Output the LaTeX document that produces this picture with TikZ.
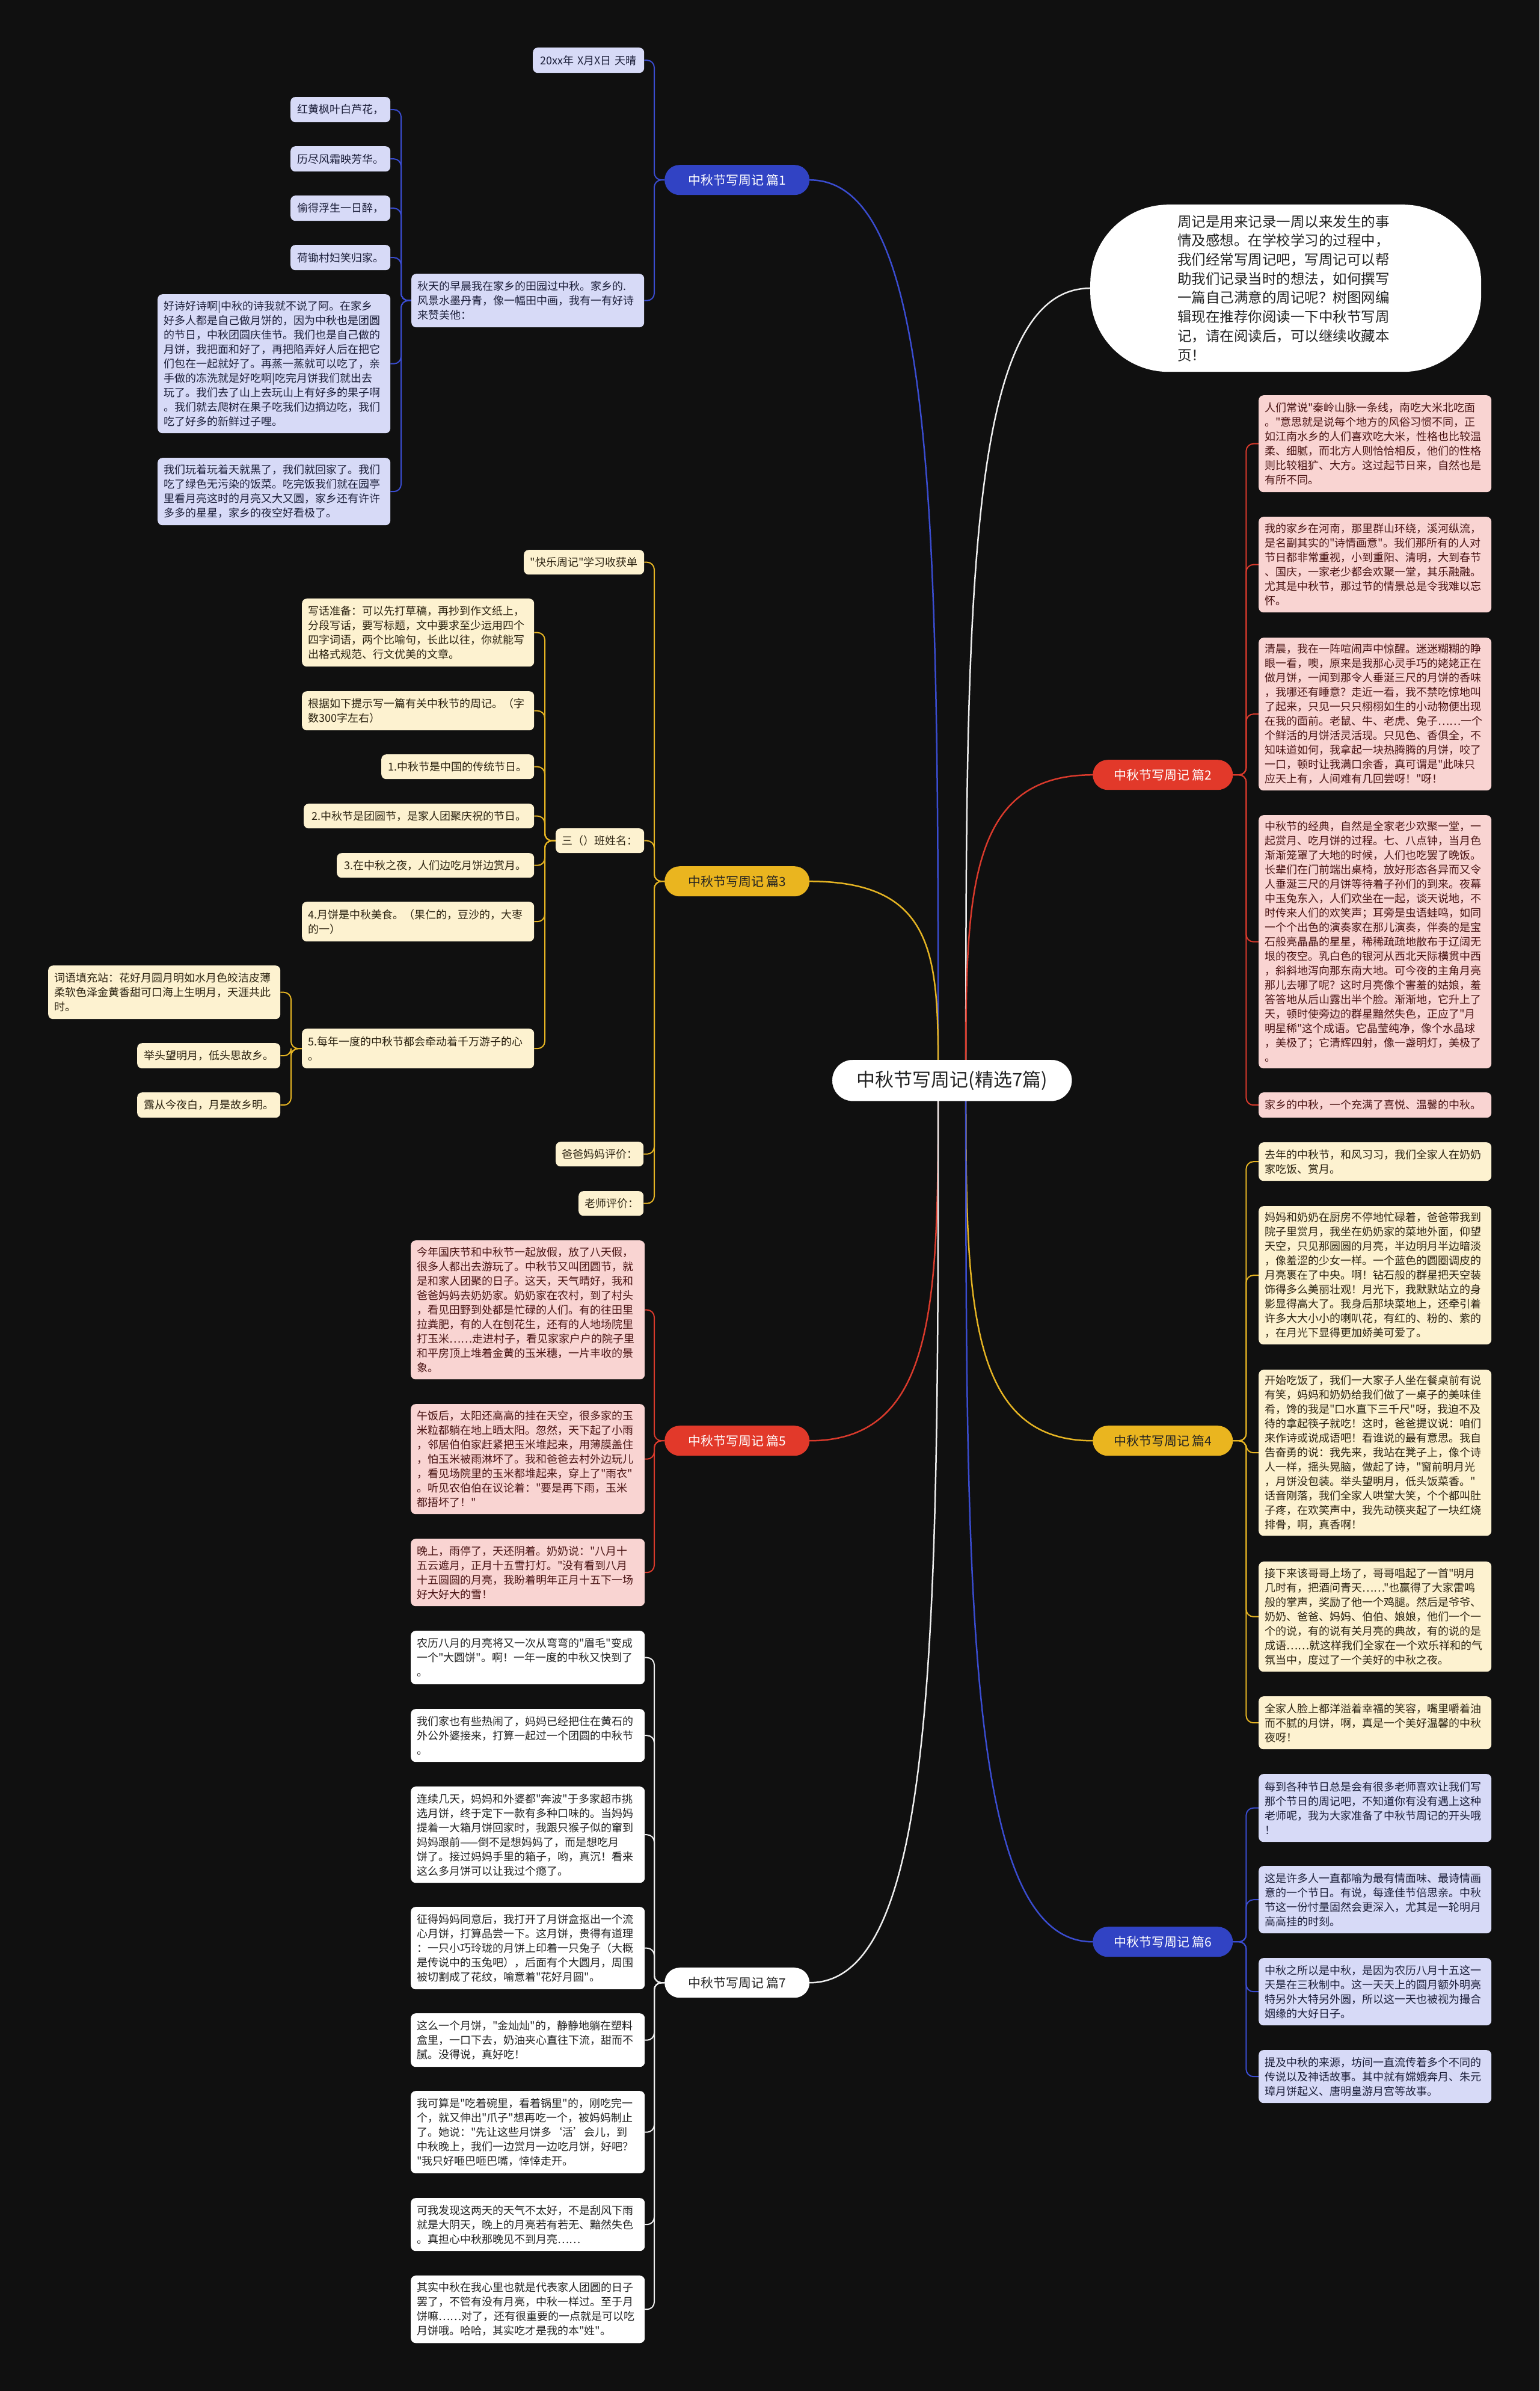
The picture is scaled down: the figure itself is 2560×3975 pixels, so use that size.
\documentclass[tikz,border=0pt]{standalone}
\usepackage{fontspec}
\setmainfont{Noto Sans CJK SC}
\newfontfamily\cjk{Noto Sans CJK SC}
\definecolor{bgc}{HTML}{101010}
\definecolor{blueL}{HTML}{3A4CD0}
\definecolor{blueF}{HTML}{3143C4}
\definecolor{blueLeaf}{HTML}{D7DAF7}
\definecolor{blueTxt}{HTML}{1C1F3A}
\definecolor{goldL}{HTML}{E5B423}
\definecolor{goldF}{HTML}{EAB51F}
\definecolor{goldLeaf}{HTML}{FDF2D0}
\definecolor{goldTxt}{HTML}{2B2210}
\definecolor{redL}{HTML}{D93A2C}
\definecolor{redF}{HTML}{E2392A}
\definecolor{redLeaf}{HTML}{F9D4D2}
\definecolor{redTxt}{HTML}{4A1414}
\definecolor{whiteL}{HTML}{EEEEEE}
\definecolor{darkTxt}{HTML}{222222}
\pgfdeclarelayer{back}\pgfdeclarelayer{links}\pgfsetlayers{back,links,main}
\begin{document}
\begin{tikzpicture}[x=1pt,y=-1pt,
  leaf/.style={anchor=north west, rounded corners=8pt, inner xsep=10pt, inner ysep=0pt, align=left, font=\cjk\fontsize{18pt}{24pt}\selectfont, text width=367pt},
  one/.style={align=center},
  bleaf/.style={leaf, fill=blueLeaf, text=blueTxt},
  gleaf/.style={leaf, fill=goldLeaf, text=goldTxt},
  rleaf/.style={leaf, fill=redLeaf, text=redTxt},
  wleaf/.style={leaf, fill=white, text=darkTxt},
  pill/.style={anchor=north west, rounded corners=25pt, minimum height=50pt, inner sep=0pt, font=\cjk\fontsize{21pt}{26pt}\selectfont},
  link/.style={line width=2.5pt, line cap=round},
  sub/.style={line width=2pt, rounded corners=12pt},
]
\useasboundingbox (0,0) rectangle (2560,3975);
\begin{pgfonlayer}{back}
\fill[bgc] (0,0) rectangle (2560,3975);
\end{pgfonlayer}

% root and branches
\node[anchor=north west, fill=white, draw=white, rounded corners=34pt, minimum width=398pt, minimum height=68pt, inner sep=0pt, text=darkTxt, font=\cjk\fontsize{31pt}{36pt}\selectfont] (root) at (1384,1762) {中秋节写周记(精选7篇)};
\coordinate (rootl) at ([xshift=-23pt]root.center);
\coordinate (rootr) at ([xshift=23pt]root.center);

\node[pill, fill=blueF, text=white, minimum width=241pt] (b1) at (1105,274) {中秋节写周记 篇1};
\node[pill, fill=goldF, text=darkTxt, minimum width=241pt] (b3) at (1105,1440) {中秋节写周记 篇3};
\node[pill, fill=redF, text=white, minimum width=241pt] (b5) at (1105,2370) {中秋节写周记 篇5};
\node[pill, fill=white, text=darkTxt, minimum width=241pt] (b7) at (1105,3271) {中秋节写周记 篇7};
\node[pill, fill=redF, text=white, minimum width=233pt] (b2) at (1817,1263) {中秋节写周记 篇2};
\node[pill, fill=goldF, text=darkTxt, minimum width=233pt] (b4) at (1817,2370) {中秋节写周记 篇4};
\node[pill, fill=blueF, text=white, minimum width=233pt] (b6) at (1817,3203) {中秋节写周记 篇6};

\node[anchor=north west, fill=white, rounded corners=130pt, minimum width=650pt, minimum height=278pt, text width=360pt, align=left, inner sep=0pt, text=darkTxt, font=\cjk\fontsize{23.5pt}{31.7pt}\selectfont] (intro) at (1813,340) {周记是用来记录一周以来发生的事\\
情及感想。在学校学习的过程中，\\
我们经常写周记吧，写周记可以帮\\
助我们记录当时的想法，如何撰写\\
一篇自己满意的周记呢？树图网编\\
辑现在推荐你阅读一下中秋节写周\\
记，请在阅读后，可以继续收藏本\\
页！};

% ---------- branch 1 ----------
\node[bleaf, one, text width=165pt, minimum height=42pt] (d1) at (886,79) {20xx年 X月X日 天晴};
\node[bleaf, one, text width=146pt, minimum height=42pt] (p1) at (483,161) {红黄枫叶白芦花，};
\node[bleaf, one, text width=146pt, minimum height=42pt] (p2) at (483,243) {历尽风霜映芳华。};
\node[bleaf, one, text width=146pt, minimum height=42pt] (p3) at (483,325) {偷得浮生一日醉，};
\node[bleaf, one, text width=146pt, minimum height=42pt] (p4) at (483,407) {荷锄村妇笑归家。};
\node[bleaf, minimum height=89pt] (q1) at (684,455) {秋天的早晨我在家乡的田园过中秋。家乡的.\\
风景水墨丹青，像一幅田中画，我有一有好诗\\
来赞美他：};
\node[bleaf, minimum height=231pt] (q2) at (262,489) {好诗好诗啊|中秋的诗我就不说了阿。在家乡\\
好多人都是自己做月饼的，因为中秋也是团圆\\
的节日，中秋团圆庆佳节。我们也是自己做的\\
月饼，我把面和好了，再把陷弄好人后在把它\\
们包在一起就好了。再蒸一蒸就可以吃了，亲\\
手做的冻洗就是好吃啊|吃完月饼我们就出去\\
玩了。我们去了山上去玩山上有好多的果子啊\\
。我们就去爬树在果子吃我们边摘边吃，我们\\
吃了好多的新鲜过子哩。};
\node[bleaf, minimum height=112pt] (q3) at (262,761) {我们玩着玩着天就黑了，我们就回家了。我们\\
吃了绿色无污染的饭菜。吃完饭我们就在园亭\\
里看月亮这时的月亮又大又圆，家乡还有许许\\
多多的星星，家乡的夜空好看极了。};

% ---------- branch 3 ----------
\node[gleaf, one, text width=180pt, minimum height=41pt] (k1) at (871,914) {"快乐周记"学习收获单};
\node[gleaf, text width=366pt, minimum height=113pt] (k2) at (502,995) {写话准备：可以先打草稿，再抄到作文纸上，\\
分段写话，要写标题，文中要求至少运用四个\\
四字词语，两个比喻句，长此以往，你就能写\\
出格式规范、行文优美的文章。};
\node[gleaf, text width=366pt, minimum height=65pt] (k3) at (502,1149) {根据如下提示写一篇有关中秋节的周记。（字\\
数300字左右）};
\node[gleaf, one, text width=234pt, minimum height=41pt] (k4) at (634,1254) {1.中秋节是中国的传统节日。};
\node[gleaf, one, text width=363pt, minimum height=41pt] (k5) at (505,1336) {2.中秋节是团圆节，是家人团聚庆祝的节日。};
\node[gleaf, one, text width=127pt, minimum height=41pt] (k6) at (924,1377) {三（）班姓名：};
\node[gleaf, one, text width=308pt, minimum height=41pt] (k7) at (560,1418) {3.在中秋之夜，人们边吃月饼边赏月。};
\node[gleaf, text width=366pt, minimum height=66pt] (k8) at (502,1499) {4.月饼是中秋美食。（果仁的，豆沙的，大枣\\
的一）};
\node[gleaf, text width=366pt, minimum height=66pt] (k9) at (502,1710) {5.每年一度的中秋节都会牵动着千万游子的心\\
。};
\node[gleaf, text width=366pt, minimum height=89pt] (k10) at (80,1605) {词语填充站：花好月圆月明如水月色皎洁皮薄\\
柔软色泽金黄香甜可口海上生明月，天涯共此\\
时。};
\node[gleaf, one, text width=218pt, minimum height=42pt] (k11) at (228,1734) {举头望明月，低头思故乡。};
\node[gleaf, one, text width=218pt, minimum height=42pt] (k12) at (228,1816) {露从今夜白，月是故乡明。};
\node[gleaf, one, text width=126pt, minimum height=41pt] (k13) at (924,1898) {爸爸妈妈评价：};
\node[gleaf, one, text width=88pt, minimum height=41pt] (k14) at (962,1980) {老师评价：};

% ---------- branch 5 ----------
\node[rleaf, text width=369pt, minimum height=231pt] (r1) at (683,2062) {今年国庆节和中秋节一起放假，放了八天假，\\
很多人都出去游玩了。中秋节又叫团圆节，就\\
是和家人团聚的日子。这天，天气晴好，我和\\
爸爸妈妈去奶奶家。奶奶家在农村，到了村头\\
，看见田野到处都是忙碌的人们。有的往田里\\
拉粪肥，有的人在刨花生，还有的人地场院里\\
打玉米……走进村子，看见家家户户的院子里\\
和平房顶上堆着金黄的玉米穗，一片丰收的景\\
象。};
\node[rleaf, text width=369pt, minimum height=183pt] (r2) at (683,2334) {午饭后，太阳还高高的挂在天空，很多家的玉\\
米粒都躺在地上晒太阳。忽然，天下起了小雨\\
，邻居伯伯家赶紧把玉米堆起来，用薄膜盖住\\
，怕玉米被雨淋坏了。我和爸爸去村外边玩儿\\
，看见场院里的玉米都堆起来，穿上了"雨衣"\\
。听见农伯伯在议论着："要是再下雨，玉米\\
都捂坏了！"};
\node[rleaf, text width=369pt, minimum height=112pt] (r3) at (683,2558) {晚上，雨停了，天还阴着。奶奶说："八月十\\
五云遮月，正月十五雪打灯。"没有看到八月\\
十五圆圆的月亮，我盼着明年正月十五下一场\\
好大好大的雪！};

% ---------- branch 7 ----------
\node[wleaf, text width=369pt, minimum height=89pt] (w1) at (683,2711) {农历八月的月亮将又一次从弯弯的"眉毛"变成\\
一个"大圆饼"。啊！一年一度的中秋又快到了\\
。};
\node[wleaf, text width=369pt, minimum height=88pt] (w2) at (683,2841) {我们家也有些热闹了，妈妈已经把住在黄石的\\
外公外婆接来，打算一起过一个团圆的中秋节\\
。};
\node[wleaf, text width=369pt, minimum height=160pt] (w3) at (683,2970) {连续几天，妈妈和外婆都"奔波"于多家超市挑\\
选月饼，终于定下一款有多种口味的。当妈妈\\
提着一大箱月饼回家时，我跟只猴子似的窜到\\
妈妈跟前——倒不是想妈妈了，而是想吃月\\
饼了。接过妈妈手里的箱子，哟，真沉！看来\\
这么多月饼可以让我过个瘾了。};
\node[wleaf, text width=369pt, minimum height=137pt] (w4) at (683,3170) {征得妈妈同意后，我打开了月饼盒抠出一个流\\
心月饼，打算品尝一下。这月饼，贵得有道理\\
：一只小巧玲珑的月饼上印着一只兔子（大概\\
是传说中的玉兔吧），后面有个大圆月，周围\\
被切割成了花纹，喻意着"花好月圆"。};
\node[wleaf, text width=369pt, minimum height=89pt] (w5) at (683,3347) {这么一个月饼，"金灿灿"的，静静地躺在塑料\\
盒里，一口下去，奶油夹心直往下流，甜而不\\
腻。没得说，真好吃！};
\node[wleaf, text width=369pt, minimum height=137pt] (w6) at (683,3476) {我可算是"吃着碗里，看着锅里"的，刚吃完一\\
个，就又伸出"爪子"想再吃一个，被妈妈制止\\
了。她说："先让这些月饼多‘活’会儿，到\\
中秋晚上，我们一边赏月一边吃月饼，好吧？\\
"我只好咂巴咂巴嘴，悻悻走开。};
\node[wleaf, text width=369pt, minimum height=88pt] (w7) at (683,3654) {可我发现这两天的天气不太好，不是刮风下雨\\
就是大阴天，晚上的月亮若有若无、黯然失色\\
。真担心中秋那晚见不到月亮……};
\node[wleaf, text width=369pt, minimum height=112pt] (w8) at (683,3783) {其实中秋在我心里也就是代表家人团圆的日子\\
罢了，不管有没有月亮，中秋一样过。至于月\\
饼嘛……对了，还有很重要的一点就是可以吃\\
月饼哦。哈哈，其实吃才是我的本"姓"。};

% ---------- branch 2 ----------
\node[rleaf, minimum height=161pt] (s1) at (2093,657) {人们常说"秦岭山脉一条线，南吃大米北吃面\\
。"意思就是说每个地方的风俗习惯不同，正\\
如江南水乡的人们喜欢吃大米，性格也比较温\\
柔、细腻，而北方人则恰恰相反，他们的性格\\
则比较粗犷、大方。这过起节日来，自然也是\\
有所不同。};
\node[rleaf, minimum height=159pt] (s2) at (2093,859) {我的家乡在河南，那里群山环绕，溪河纵流，\\
是名副其实的"诗情画意"。我们那所有的人对\\
节日都非常重视，小到重阳、清明，大到春节\\
、国庆，一家老少都会欢聚一堂，其乐融融。\\
尤其是中秋节，那过节的情景总是令我难以忘\\
怀。};
\node[rleaf, minimum height=254pt] (s3) at (2093,1060) {清晨，我在一阵喧闹声中惊醒。迷迷糊糊的睁\\
眼一看，噢，原来是我那心灵手巧的姥姥正在\\
做月饼，一闻到那令人垂涎三尺的月饼的香味\\
，我哪还有睡意？走近一看，我不禁吃惊地叫\\
了起来，只见一只只栩栩如生的小动物便出现\\
在我的面前。老鼠、牛、老虎、兔子……一个\\
个鲜活的月饼活灵活现。只见色、香俱全，不\\
知味道如何，我拿起一块热腾腾的月饼，咬了\\
一口，顿时让我满口余香，真可谓是"此味只\\
应天上有，人间难有几回尝呀！"呀！};
\node[rleaf, minimum height=421pt] (s4) at (2093,1355) {中秋节的经典，自然是全家老少欢聚一堂，一\\
起赏月、吃月饼的过程。七、八点钟，当月色\\
渐渐笼罩了大地的时候，人们也吃罢了晚饭。\\
长辈们在门前端出桌椅，放好形态各异而又令\\
人垂涎三尺的月饼等待着子孙们的到来。夜幕\\
中玉兔东入，人们欢坐在一起，谈天说地，不\\
时传来人们的欢笑声；耳旁是虫语蛙鸣，如同\\
一个个出色的演奏家在那儿演奏，伴奏的是宝\\
石般亮晶晶的星星，稀稀疏疏地散布于辽阔无\\
垠的夜空。乳白色的银河从西北天际横贯中西\\
，斜斜地泻向那东南大地。可今夜的主角月亮\\
那儿去哪了呢？这时月亮像个害羞的姑娘，羞\\
答答地从后山露出半个脸。渐渐地，它升上了\\
天，顿时使旁边的群星黯然失色，正应了"月\\
明星稀"这个成语。它晶莹纯净，像个水晶球\\
，美极了；它清辉四射，像一盏明灯，美极了\\
。};
\node[rleaf, minimum height=42pt] (s5) at (2093,1816) {家乡的中秋，一个充满了喜悦、温馨的中秋。};

% ---------- branch 4 ----------
\node[gleaf, minimum height=64pt] (g1) at (2093,1899) {去年的中秋节，和风习习，我们全家人在奶奶\\
家吃饭、赏月。};
\node[gleaf, minimum height=230pt] (g2) at (2093,2005) {妈妈和奶奶在厨房不停地忙碌着，爸爸带我到\\
院子里赏月，我坐在奶奶家的菜地外面，仰望\\
天空，只见那圆圆的月亮，半边明月半边暗淡\\
，像羞涩的少女一样。一个蓝色的圆圈调皮的\\
月亮裹在了中央。啊！钻石般的群星把天空装\\
饰得多么美丽壮观！月光下，我默默站立的身\\
影显得高大了。我身后那块菜地上，还牵引着\\
许多大大小小的喇叭花，有红的、粉的、紫的\\
，在月光下显得更加娇美可爱了。};
\node[gleaf, minimum height=276pt] (g3) at (2093,2277) {开始吃饭了，我们一大家子人坐在餐桌前有说\\
有笑，妈妈和奶奶给我们做了一桌子的美味佳\\
肴，馋的我是"口水直下三千尺"呀，我迫不及\\
待的拿起筷子就吃！这时，爸爸提议说：咱们\\
来作诗或说成语吧！看谁说的最有意思。我自\\
告奋勇的说：我先来，我站在凳子上，像个诗\\
人一样，摇头晃脑，做起了诗，"窗前明月光\\
，月饼没包装。举头望明月，低头饭菜香。"\\
话音刚落，我们全家人哄堂大笑，个个都叫肚\\
子疼，在欢笑声中，我先动筷夹起了一块红烧\\
排骨，啊，真香啊！};
\node[gleaf, minimum height=183pt] (g4) at (2093,2596) {接下来该哥哥上场了，哥哥唱起了一首"明月\\
几时有，把酒问青天……"也赢得了大家雷鸣\\
般的掌声，奖励了他一个鸡腿。然后是爷爷、\\
奶奶、爸爸、妈妈、伯伯、娘娘，他们一个一\\
个的说，有的说有关月亮的典故，有的说的是\\
成语……就这样我们全家在一个欢乐祥和的气\\
氛当中，度过了一个美好的中秋之夜。};
\node[gleaf, minimum height=88pt] (g5) at (2093,2820) {全家人脸上都洋溢着幸福的笑容，嘴里嚼着油\\
而不腻的月饼，啊，真是一个美好温馨的中秋\\
夜呀！};

% ---------- branch 6 ----------
\node[bleaf, minimum height=113pt] (t1) at (2093,2949) {每到各种节日总是会有很多老师喜欢让我们写\\
那个节日的周记吧，不知道你有没有遇上这种\\
老师呢，我为大家准备了中秋节周记的开头哦\\
！};
\node[bleaf, minimum height=112pt] (t2) at (2093,3102) {这是许多人一直都喻为最有情面味、最诗情画\\
意的一个节日。有说，每逢佳节倍思亲。中秋\\
节这一份忖量固然会更深入，尤其是一轮明月\\
高高挂的时刻。};
\node[bleaf, minimum height=112pt] (t3) at (2093,3255) {中秋之所以是中秋，是因为农历八月十五这一\\
天是在三秋制中。这一天天上的圆月额外明亮\\
特另外大特另外圆，所以这一天也被视为撮合\\
姻缘的大好日子。};
\node[bleaf, minimum height=88pt] (t4) at (2093,3408) {提及中秋的来源，坊间一直流传着多个不同的\\
传说以及神话故事。其中就有嫦娥奔月、朱元\\
璋月饼起义、唐明皇游月宫等故事。};

% ---------- connectors ----------
\begin{pgfonlayer}{links}
\draw[link, blueL] (rootl) .. controls +(0,-898) and +(214,0) .. (b1.east);
\draw[link, goldL] (rootl) .. controls +(0,-200) and +(214,0) .. (b3.east);
\draw[link, redL] (rootl) .. controls +(0,360) and +(214,0) .. (b5.east);
\draw[link, whiteL] (rootl) .. controls +(0,900) and +(214,0) .. (b7.east);
\draw[link, whiteL] (rootr) .. controls +(0,-790) and +(-207,0) .. (intro.west);
\draw[link, redL] (rootr) .. controls +(0,-305) and +(-211,0) .. (b2.west);
\draw[link, goldL] (rootr) .. controls +(0,360) and +(-211,0) .. (b4.west);
\draw[link, blueL] (rootr) .. controls +(0,860) and +(-211,0) .. (b6.west);

\foreach \c in {d1,q1} \draw[sub, blueL] (b1.west) -- ++(-17,0) |- (\c.east);
\foreach \c in {p1,p2,p3,p4,q2,q3} \draw[sub, blueL] (q1.west) -- ++(-17,0) |- (\c.east);
\foreach \c in {k1,k6,k13,k14} \draw[sub, goldL] (b3.west) -- ++(-17,0) |- (\c.east);
\foreach \c in {k2,k3,k4,k5,k7,k8,k9} \draw[sub, goldL] (k6.west) -- ++(-18,0) |- (\c.east);
\foreach \c in {k10,k11,k12} \draw[sub, goldL] (k9.west) -- ++(-18,0) |- (\c.east);
\foreach \c in {r1,r2,r3} \draw[sub, redL] (b5.west) -- ++(-17,0) |- (\c.east);
\foreach \c in {w1,w2,w3,w4,w5,w6,w7,w8} \draw[sub, whiteL] (b7.west) -- ++(-17,0) |- (\c.east);
\foreach \c in {s1,s2,s3,s4,s5} \draw[sub, redL] (b2.east) -- ++(22,0) |- (\c.west);
\foreach \c in {g1,g2,g3,g4,g5} \draw[sub, goldL] (b4.east) -- ++(22,0) |- (\c.west);
\foreach \c in {t1,t2,t3,t4} \draw[sub, blueL] (b6.east) -- ++(22,0) |- (\c.west);
\end{pgfonlayer}
\end{tikzpicture}
\end{document}
